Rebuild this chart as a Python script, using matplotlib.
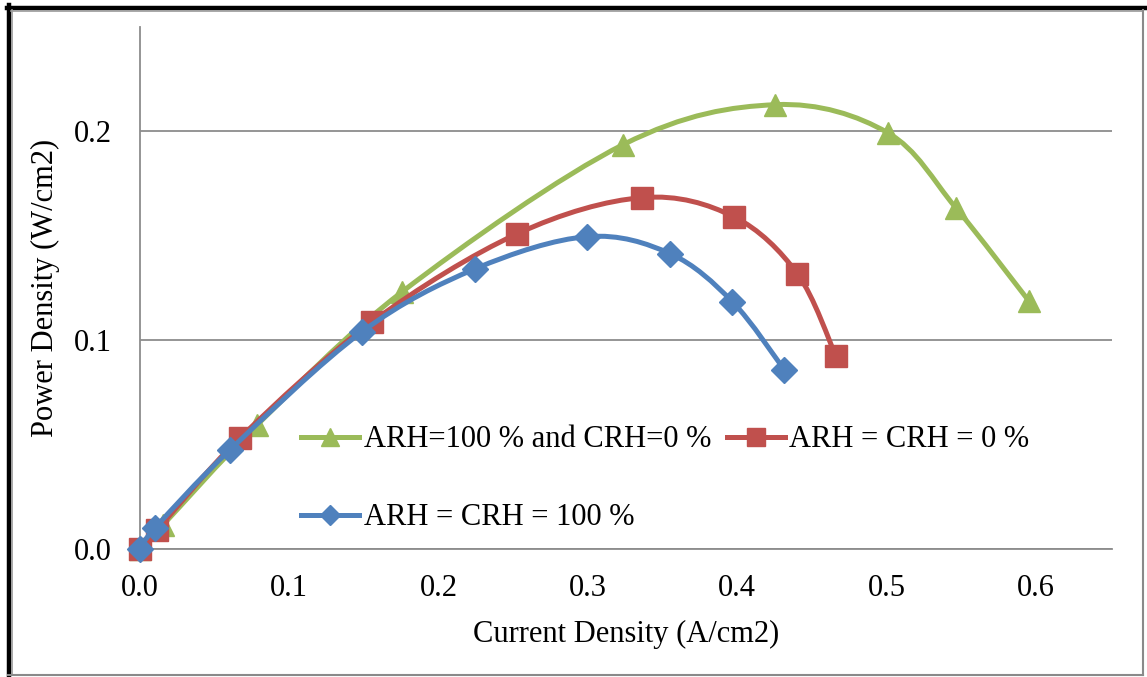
import numpy as np
import matplotlib
matplotlib.use("Agg")
import matplotlib.pyplot as plt
from matplotlib.path import Path
from matplotlib.patches import PathPatch
from matplotlib.lines import Line2D

plt.rcParams["font.family"] = ["Liberation Serif", "DejaVu Serif"]

# Current density (A/cm2) and power density (W/cm2) for each humidity condition
x_mixed = [0.0, 0.0154, 0.0784, 0.1756, 0.3237, 0.4256, 0.5007, 0.5463, 0.5952]
y_mixed = [0.0, 0.0115, 0.0594, 0.1232, 0.1937, 0.2128, 0.1994, 0.1635, 0.1189]

x_dry = [0.0, 0.0114, 0.0670, 0.1555, 0.2527, 0.3365, 0.3975, 0.4403, 0.4660]
y_dry = [0.0, 0.0091, 0.0532, 0.1088, 0.1510, 0.1683, 0.1592, 0.1318, 0.0925]

x_wet = [0.0, 0.0101, 0.0603, 0.1488, 0.2245, 0.2996, 0.3552, 0.3968, 0.4316]
y_wet = [0.0, 0.0101, 0.0475, 0.1041, 0.1342, 0.1496, 0.1414, 0.1184, 0.0858]

labels = ["ARH=100 % and CRH=0 %", "ARH = CRH = 0 %", "ARH = CRH = 100 %"]
colors = ["#9BBB59", "#C0504D", "#4F81BD"]
markers = ["^", "s", "D"]
marker_sizes = [16, 16, 13]

x_ticks = [0.0, 0.1, 0.2, 0.3, 0.4, 0.5, 0.6]
y_ticks = [0.0, 0.1, 0.2]

FS = 22


def smooth_path(xs, ys):
    """Excel-style smoothed line: cubic Bezier segments through every point."""
    pts = np.column_stack([xs, ys]).astype(float)
    n = len(pts)
    verts = [pts[0]]
    codes = [Path.MOVETO]
    for i in range(n - 1):
        p0 = pts[i - 1] if i > 0 else pts[i]
        p1 = pts[i]
        p2 = pts[i + 1]
        p3 = pts[i + 2] if i + 2 < n else pts[i + 1]
        c1 = p1 + (p2 - p0) / 6.0
        c2 = p2 - (p3 - p1) / 6.0
        verts += [c1, c2, p2]
        codes += [Path.CURVE4] * 3
    return Path(verts, codes)


fig = plt.figure(figsize=(11.47, 6.77), dpi=100)
ax = fig.add_axes([140 / 1147, 1 - 549 / 677, (1112 - 140) / 1147, (549 - 27) / 677])

series = [(x_mixed, y_mixed), (x_dry, y_dry), (x_wet, y_wet)]
handles = []
for k, (xs, ys) in enumerate(series):
    patch = PathPatch(smooth_path(xs, ys), facecolor="none", edgecolor=colors[k],
                      lw=3.6, capstyle="round", joinstyle="round", zorder=3 + k)
    ax.add_patch(patch)
    ax.plot(xs, ys, linestyle="none", marker=markers[k], ms=marker_sizes[k],
            color=colors[k], mec=colors[k], zorder=3 + k, clip_on=False)
    handles.append(Line2D([], [], color=colors[k], lw=3.6, marker=markers[k],
                          ms=marker_sizes[k] * 0.8, mec=colors[k]))

ax.set_xlim(0, 0.651)
ax.set_ylim(0, 0.25)
ax.set_xticks(x_ticks)
ax.set_xticklabels([f"{v:.1f}" for v in x_ticks])
ax.set_yticks(y_ticks)
ax.set_yticklabels([f"{v:.1f}" for v in y_ticks])
ax.tick_params(length=0, labelsize=FS, colors="black")
ax.tick_params(axis="x", pad=18)
ax.tick_params(axis="y", pad=20)
ax.yaxis.grid(True, color="#8C8C8C", lw=1.3)
ax.set_axisbelow(True)
for side in ("top", "right"):
    ax.spines[side].set_visible(False)
for side in ("left", "bottom"):
    ax.spines[side].set_color("#8C8C8C")
    ax.spines[side].set_linewidth(1.3)

ax.set_xlabel("Current Density (A/cm2)", fontsize=FS, labelpad=12)
ax.set_ylabel("Power Density (W/cm2)", fontsize=FS, labelpad=10)

# Legend entries laid out row-wise: green & red on top, blue below
leg = ax.legend([handles[0], handles[2], handles[1]],
                [labels[0], labels[2], labels[1]],
                ncol=2, frameon=False, fontsize=FS,
                loc="upper left", bbox_to_anchor=(0.166, 0.2366),
                handlelength=1.9, handletextpad=0.15, columnspacing=0.5,
                labelspacing=1.6, borderaxespad=0, borderpad=0)

# Outer frame of the chart
fig.add_artist(Line2D([8.5 / 1147, 8.5 / 1147], [0, 1 - 5 / 677], color="black", lw=3.2,
                      transform=fig.transFigure))
fig.add_artist(Line2D([7 / 1147, 1], [1 - 7.5 / 677, 1 - 7.5 / 677], color="black", lw=3.2,
                      transform=fig.transFigure))
fig.add_artist(Line2D([11.5 / 1147, 11.5 / 1147], [1 - 675 / 677, 1 - 10 / 677], color="#9A9A9A",
                      lw=1.2, transform=fig.transFigure))
fig.add_artist(Line2D([11 / 1147, 1143 / 1147], [1 - 10.5 / 677, 1 - 10.5 / 677], color="#9A9A9A",
                      lw=1.2, transform=fig.transFigure))
fig.add_artist(Line2D([1143 / 1147, 1143 / 1147], [1 - 675 / 677, 1 - 10 / 677], color="#8A8A8A",
                      lw=1.5, transform=fig.transFigure))
fig.add_artist(Line2D([8 / 1147, 1143 / 1147], [1 - 675 / 677, 1 - 675 / 677], color="#8A8A8A",
                      lw=1.5, transform=fig.transFigure))

fig.savefig("out.png", dpi=100)
